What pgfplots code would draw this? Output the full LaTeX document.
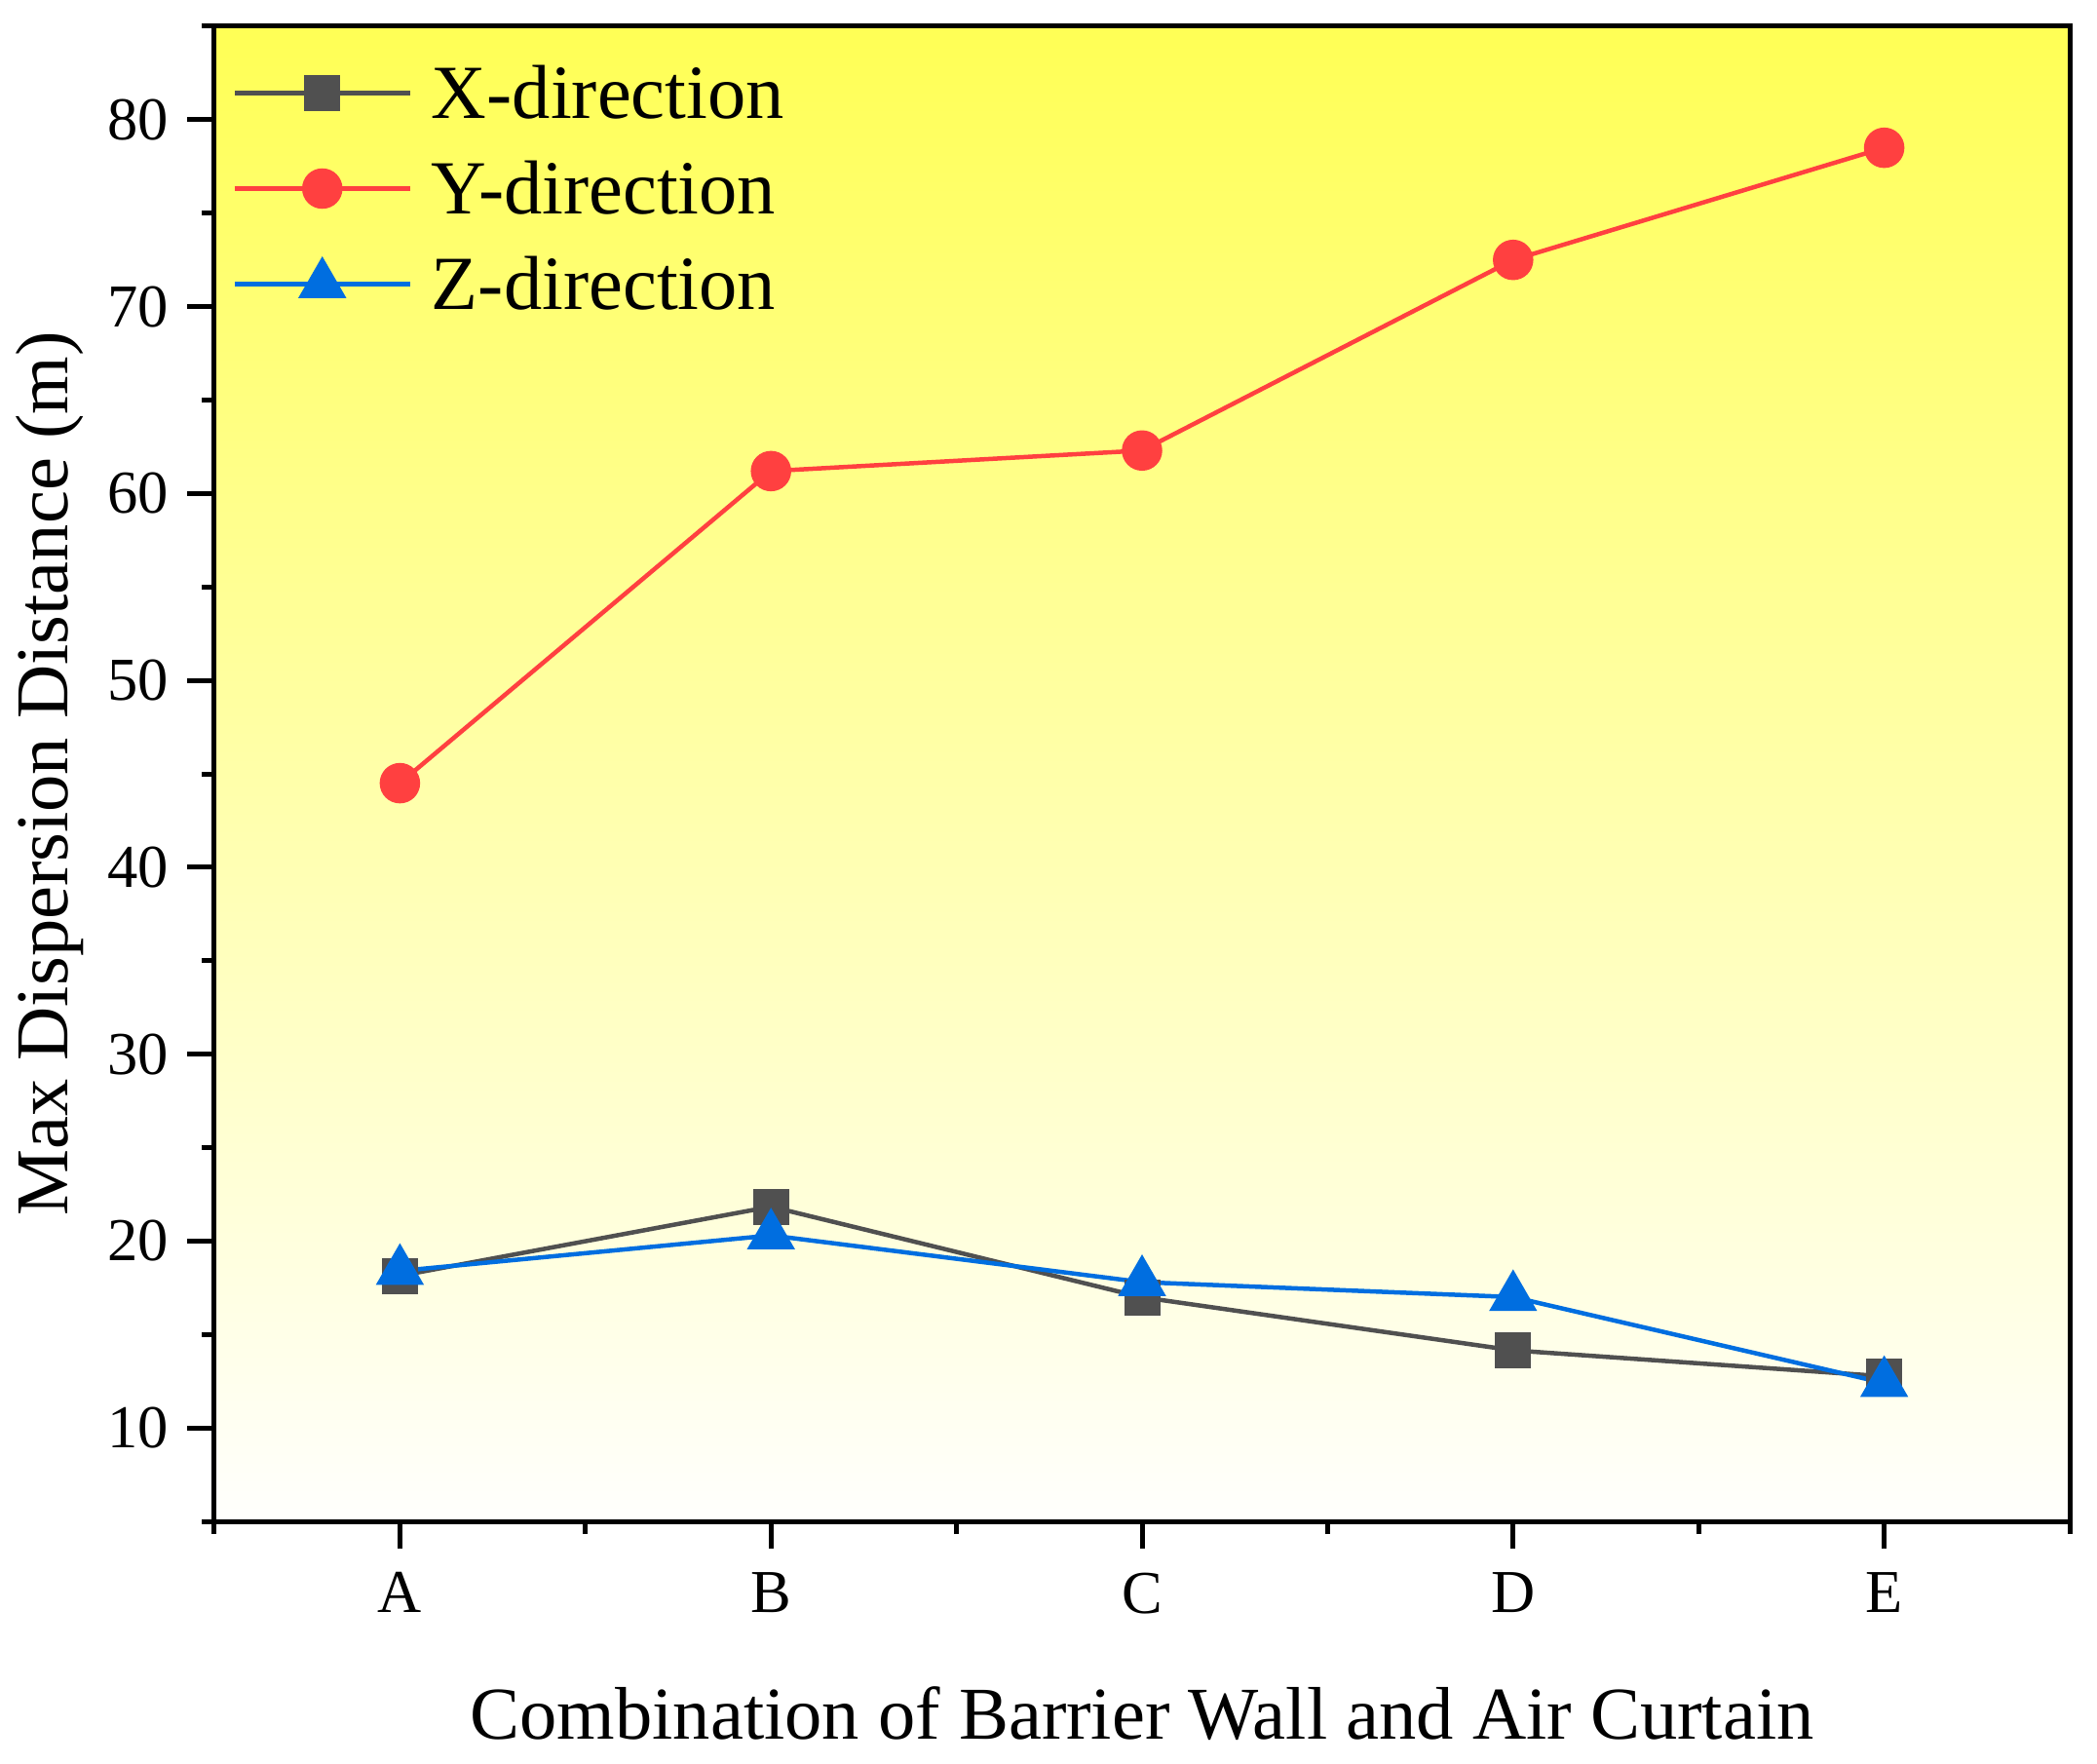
\documentclass[border=0pt]{standalone}
\usepackage{fontspec}
\setmainfont{Liberation Serif}
\usepackage{pgfplots}
\pgfplotsset{compat=1.18}
\definecolor{cgray}{RGB}{80,80,80}
\definecolor{cred}{RGB}{255,64,64}
\definecolor{cblue}{RGB}{0,110,224}
\definecolor{ctop}{RGB}{255,255,85}
\definecolor{cmid}{RGB}{255,255,212}
\definecolor{cbot}{RGB}{255,255,253}
\begin{document}
\begin{tikzpicture}
\path[use as bounding box] (-44pt,-49.6pt) rectangle (386.4pt,312.2pt);
\begin{axis}[
  at={(0,0)}, anchor=south west,
  scale only axis, width=380.8pt, height=306.8pt,
  xmin=0.5, xmax=5.5, ymin=5, ymax=85,
  xtick={1,2,3,4,5}, xticklabels={A,B,C,D,E},
  minor xtick={0.5,1.5,2.5,3.5,4.5,5.5},
  ytick={10,20,...,80}, minor ytick={5,15,...,85},
  tick pos=left, tick align=outside,
  major tick length=5.6pt, minor tick length=2.6pt,
  every tick/.style={black, line width=1pt},
  line width=1pt,
  axis background/.style={top color=ctop, middle color=cmid, bottom color=cbot},
  /pgf/number format/assume math mode=true,
  ticklabel style={font=\fontsize{12.5}{12.5}\selectfont},
  xticklabel style={yshift=-1.1pt},
  xlabel={Combination of Barrier Wall and Air Curtain},
  ylabel={Max Dispersion Distance (m)},
  every axis x label/.style={at={([yshift=-44.6pt]axis description cs:0.5,0)}, anchor=base, font=\fontsize{15.3}{15.3}\selectfont},
  every axis y label/.style={at={([xshift=-30pt]axis description cs:0,0.5)}, anchor=base, rotate=90, font=\fontsize{15.3}{15.3}\selectfont},
  legend style={at={(axis description cs:0,1)}, anchor=north west, xshift=3.2pt, yshift=-5.9pt,
    draw=none, fill=none, inner sep=0pt, row sep=5pt, column sep=4pt,
    font=\fontsize{15.7}{15.7}\selectfont,
    nodes={inner sep=0pt, text height=12.6pt, text depth=2pt}},
  legend cell align=left,
  legend image code/.code={\draw[mark repeat=2,mark phase=2,#1] plot coordinates {(0pt,0pt)(18pt,0pt)(36pt,0pt)};},
]
\addplot[color=cgray, line width=0.9pt, mark=square*, mark size=3.25pt, mark options={solid}]
  coordinates {(1,18.14)(2,21.84)(3,16.99)(4,14.15)(5,12.76)};
\addlegendentry{X-direction}
\addplot[color=cred, line width=0.9pt, mark=*, mark size=3.7pt, mark options={solid}]
  coordinates {(1,44.5)(2,61.2)(3,62.3)(4,72.5)(5,78.5)};
\addlegendentry{Y-direction}
\addplot[color=cblue, line width=0.9pt, mark=triangle*, mark size=4.8pt, mark options={solid}]
  coordinates {(1,18.4)(2,20.3)(3,17.8)(4,17.0)(5,12.4)};
\addlegendentry{Z-direction}
\end{axis}
\end{tikzpicture}
\end{document}
